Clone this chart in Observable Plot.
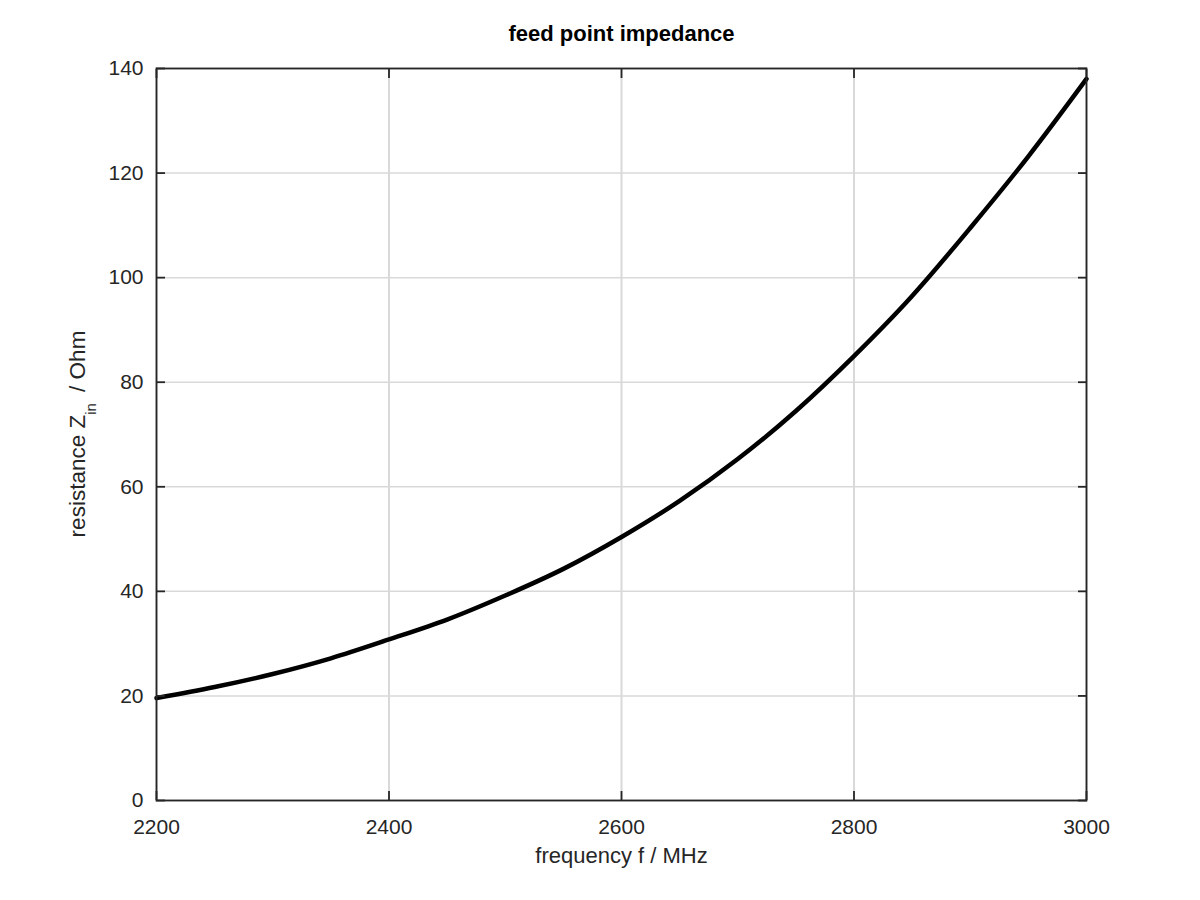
<!DOCTYPE html>
<html>
<head>
<meta charset="utf-8">
<script src="https://cdn.jsdelivr.net/npm/d3@7"></script>
<script src="https://cdn.jsdelivr.net/npm/@observablehq/plot@0.6"></script>
<style>
  html, body { margin: 0; padding: 0; background: white; }
</style>
</head>
<body>
<div id="chart"></div>
<script>
const freq = [2200, 2250, 2300, 2350, 2400, 2450, 2500, 2550, 2600, 2650, 2700, 2750, 2800, 2850, 2900, 2950, 3000];
const resistance = [19.6, 21.7, 24.2, 27.2, 30.8, 34.6, 39.2, 44.3, 50.4, 57.3, 65.3, 74.5, 85.0, 96.5, 109.5, 123.2, 138.0];
const xTicks = [2200, 2400, 2600, 2800, 3000];
const yTicks = [0, 20, 40, 60, 80, 100, 120, 140];
const titleText = "feed point impedance";
const xLabel = "frequency f / MHz";

const data = freq.map((f, i) => ({f, r: resistance[i]}));

const FONT = "'Liberation Sans', Arial, Helvetica, sans-serif";
const axisColor = "#262626";
const chart = Plot.plot({
  width: 1200,
  height: 900,
  marginLeft: 156,
  marginRight: 114,
  marginTop: 68,
  marginBottom: 100,
  style: {fontFamily: FONT, fontSize: "21px", color: axisColor, background: "white", overflow: "visible"},
  x: {domain: [2200, 3000]},
  y: {domain: [0, 140]},
  marks: [
    Plot.gridX(xTicks, {stroke: "#d9d9d9", strokeOpacity: 1, strokeWidth: 2}),
    Plot.gridY(yTicks, {stroke: "#d9d9d9", strokeOpacity: 1, strokeWidth: 1.5}),
    Plot.line(data, {x: "f", y: "r", stroke: "black", strokeWidth: 4.5, curve: "monotone-x"}),
    Plot.frame({stroke: axisColor, strokeWidth: 1.8}),
    Plot.axisX(xTicks, {anchor: "bottom", tickSize: -9, tickPadding: 28, stroke: axisColor, strokeWidth: 1.8, fill: axisColor, fontSize: 21, tickFormat: d3.format("d"), label: null}),
    Plot.axisX(xTicks, {anchor: "top", tickSize: -9, stroke: axisColor, strokeWidth: 1.8, tickFormat: () => "", label: null}),
    Plot.axisY(yTicks, {anchor: "left", tickSize: -9, tickPadding: 22, stroke: axisColor, strokeWidth: 1.8, fill: axisColor, fontSize: 21, tickFormat: d3.format("d"), label: null}),
    Plot.axisY(yTicks, {anchor: "right", tickSize: -9, stroke: axisColor, strokeWidth: 1.8, tickFormat: () => "", label: null}),
    Plot.text([titleText], {frameAnchor: "top", dy: -43, text: d => d, fontWeight: "bold", fontSize: 22, fill: "black"}),
    Plot.text([xLabel], {frameAnchor: "bottom", dy: 62, text: d => d, fontSize: 22, fill: axisColor})
  ]
});
document.getElementById("chart").appendChild(chart);

// y-axis label with subscript
const ys = chart.scale("y");
const cy = (ys.range[0] + ys.range[1]) / 2;
const svg = d3.select(chart);
const lab = svg.append("text")
  .attr("transform", `translate(85,${cy}) rotate(-90)`)
  .attr("text-anchor", "middle")
  .attr("font-family", FONT)
  .attr("font-size", 22.5)
  .attr("fill", axisColor);
lab.append("tspan").text("resistance Z");
lab.append("tspan").attr("font-size", 15).attr("dy", 11).text("in");
lab.append("tspan").attr("dy", -11).attr("dx", 5).text(" / Ohm");
</script>
</body>
</html>
